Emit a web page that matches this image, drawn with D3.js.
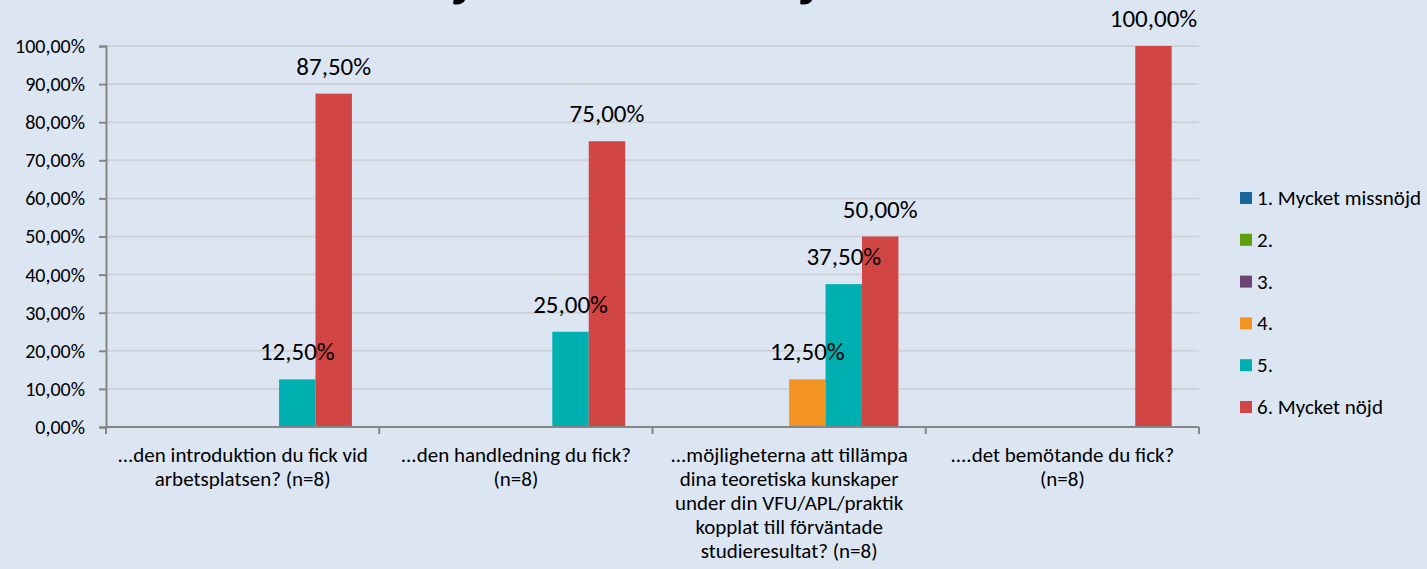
<!DOCTYPE html>
<html>
<head>
<meta charset="utf-8">
<script src="https://cdn.jsdelivr.net/npm/d3@7"></script>
<style>
  html, body { margin: 0; padding: 0; background: #dce6f2; }
  svg { display: block; font-family: Carlito, Calibri, Lato, sans-serif; }
</style>
</head>
<body>
<div id="chart"></div>
<script>
// title is cut off at the top of the picture, only the descenders show
var title = "Hur nöjd eller missnöjd är du med";

var categories = ["c1", "c2", "c3", "c4"];
var categoryLines = [
  ["...den introduktion du fick vid", "arbetsplatsen? (n=8)"],
  ["...den handledning du fick?", "(n=8)"],
  ["...möjligheterna att tillämpa", "dina teoretiska kunskaper", "under din VFU/APL/praktik", "kopplat till förväntade", "studieresultat? (n=8)"],
  ["....det bemötande du fick?", "(n=8)"]
];

var seriesNames = ["1. Mycket missnöjd", "2.", "3.", "4.", "5.", "6. Mycket nöjd"];
var seriesColors = ["#1a6699", "#5f9e0f", "#6b4674", "#f39322", "#00b0b0", "#d24545"];

var s1 = [0, 0, 0, 0];
var s2 = [0, 0, 0, 0];
var s3 = [0, 0, 0, 0];
var s4 = [0, 0, 12.5, 0];
var s5 = [12.5, 25, 37.5, 0];
var s6 = [87.5, 75, 50, 100];
var seriesValues = [s1, s2, s3, s4, s5, s6];

var yTicks = [0, 10, 20, 30, 40, 50, 60, 70, 80, 90, 100];

var width = 1427;
var height = 569;

var svg = d3.select("#chart").append("svg")
  .attr("width", width)
  .attr("height", height);

svg.append("rect")
  .attr("width", width)
  .attr("height", height)
  .attr("fill", "#dce6f2");

var x0 = d3.scaleBand().domain(categories).range([106, 1199]).padding(0);
var x1 = d3.scaleBand().domain(seriesNames).range([0, x0.bandwidth()])
  .paddingInner(0).paddingOuter(0.75);
var y = d3.scaleLinear().domain([0, 100]).range([427, 46]);

var fmt = function(v) {
  return d3.format(".2f")(v).replace(".", ",") + "%";
};

// gridlines
svg.append("g")
  .selectAll("line")
  .data(yTicks.filter(function(d) { return d > 0; }))
  .enter().append("line")
  .attr("x1", 106)
  .attr("x2", 1199)
  .attr("y1", function(d) { return y(d); })
  .attr("y2", function(d) { return y(d); })
  .attr("stroke", "#cfd3d8")
  .attr("stroke-width", 2);

// y axis
var yAxis = svg.append("g")
  .attr("transform", "translate(106,0)")
  .call(d3.axisLeft(y).tickValues(yTicks).tickSize(7).tickPadding(14).tickFormat(fmt));
yAxis.select(".domain").attr("stroke", "#868686").attr("stroke-width", 2);
yAxis.selectAll(".tick line").attr("stroke", "#868686").attr("stroke-width", 2);
yAxis.selectAll(".tick text")
  .attr("fill", "#000")
  .style("font-size", "20px")
  .style("font-family", "Carlito, Calibri, Lato, sans-serif");

// bars
var flat = [];
seriesValues.forEach(function(vals, si) {
  vals.forEach(function(v, ci) {
    flat.push({ s: si, c: ci, v: v });
  });
});

var bars = flat.filter(function(d) { return d.v > 0; });

svg.append("g")
  .selectAll("rect")
  .data(bars)
  .enter().append("rect")
  .attr("x", function(d) { return x0(categories[d.c]) + x1(seriesNames[d.s]); })
  .attr("width", x1.bandwidth())
  .attr("y", function(d) { return y(d.v); })
  .attr("height", function(d) { return y(0) - y(d.v); })
  .attr("fill", function(d) { return seriesColors[d.s]; });

svg.append("g")
  .selectAll("text")
  .data(bars)
  .enter().append("text")
  .attr("text-anchor", "middle")
  .attr("x", function(d) { return x0(categories[d.c]) + x1(seriesNames[d.s]) + x1.bandwidth() / 2; })
  .attr("y", function(d) { return y(d.v) - 19; })
  .style("font-size", "25px")
  .attr("fill", "#000")
  .text(function(d) { return fmt(d.v); });

// x axis
svg.append("line")
  .attr("x1", 106).attr("x2", 1199)
  .attr("y1", y(0)).attr("y2", y(0))
  .attr("stroke", "#868686").attr("stroke-width", 2);

var edges = categories.map(function(c) { return x0(c); }).concat([x0.range()[1]]);
svg.append("g")
  .selectAll("line")
  .data(edges)
  .enter().append("line")
  .attr("x1", function(d) { return d; })
  .attr("x2", function(d) { return d; })
  .attr("y1", y(0))
  .attr("y2", y(0) + 7)
  .attr("stroke", "#868686").attr("stroke-width", 2);

var catLabels = svg.append("g")
  .selectAll("text")
  .data(categories)
  .enter().append("text")
  .attr("text-anchor", "middle")
  .attr("x", function(d) { return x0(d) + x0.bandwidth() / 2; })
  .attr("y", 462)
  .style("font-size", "21px")
  .attr("fill", "#000");

catLabels.selectAll("tspan")
  .data(function(d, i) { return categoryLines[i]; })
  .enter().append("tspan")
  .attr("x", function() { return d3.select(this.parentNode).attr("x"); })
  .attr("dy", function(d, i) { return i === 0 ? 0 : 24; })
  .text(function(d) { return d; });

// legend
var legend = svg.append("g")
  .selectAll("g")
  .data(seriesNames)
  .enter().append("g")
  .attr("transform", function(d, i) { return "translate(1240," + (198 + i * 41.8) + ")"; });

legend.append("rect")
  .attr("x", 0).attr("y", -6)
  .attr("width", 12).attr("height", 12)
  .attr("fill", function(d, i) { return seriesColors[i]; });

legend.append("text")
  .attr("x", 17)
  .attr("y", 7)
  .style("font-size", "21px")
  .attr("fill", "#000")
  .text(function(d) { return d; });

// title, placed so that the two j's land where they do in the picture
var t = svg.append("text")
  .attr("font-weight", "bold")
  .attr("fill", "#000")
  .style("font-size", "42px")
  .text(title);
var i1 = title.indexOf("j");
var i2 = title.lastIndexOf("j");
var dist = t.node().getSubStringLength(i1, i2 - i1);
var fs = 42 * 347 / dist;
t.style("font-size", fs + "px");
var before = t.node().getSubStringLength(0, i1);
t.attr("x", 455 - before).attr("y", 6 - fs * 0.19);
</script>
</body>
</html>
